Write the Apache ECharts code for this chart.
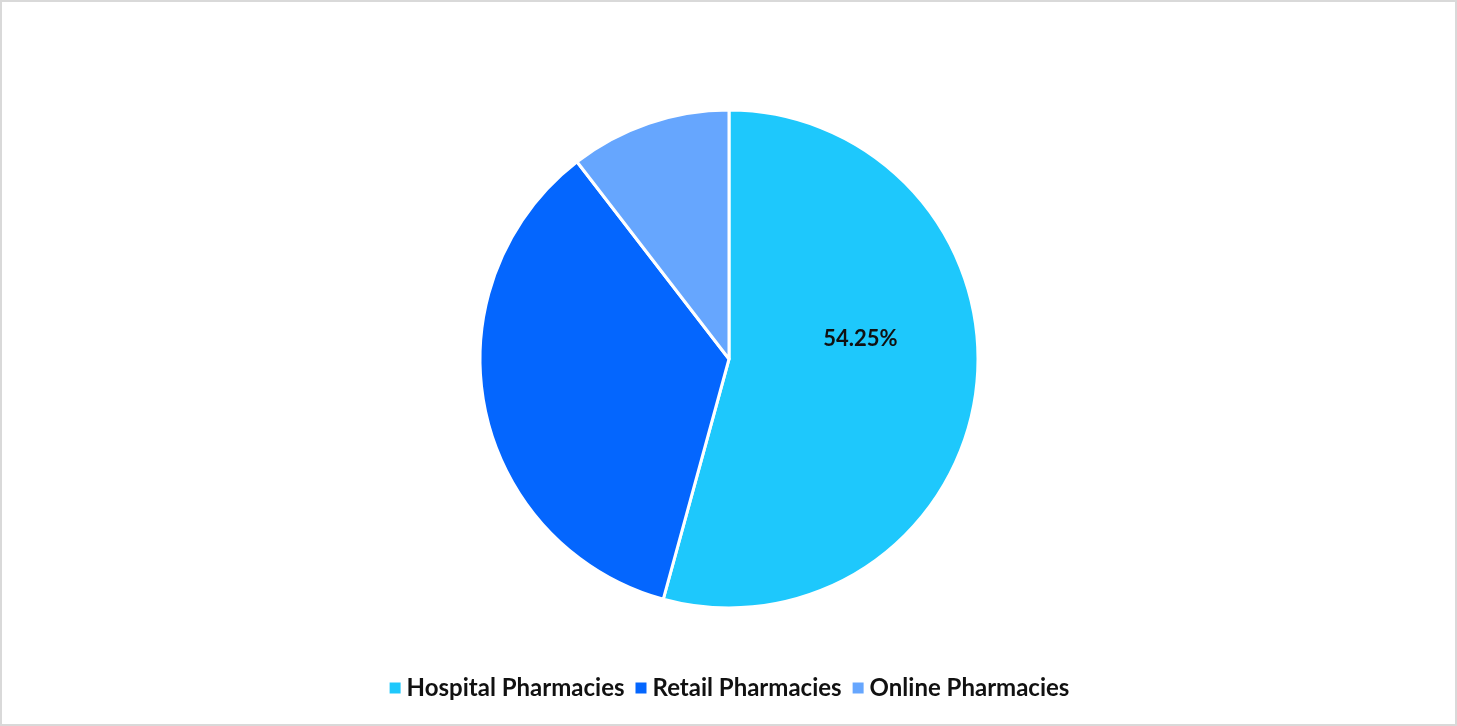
<!DOCTYPE html>
<html><head><meta charset="utf-8">
<script src="https://cdn.jsdelivr.net/npm/echarts@6/dist/echarts.min.js"></script>
<style>html,body{margin:0;padding:0;background:#fff}#c{width:1457px;height:726px;box-sizing:border-box;border:2px solid #d9d9d9}</style>
</head><body><div id="c"></div>
<script>
const categories = ['Hospital Pharmacies', 'Retail Pharmacies', 'Online Pharmacies'];
const values = [54.25, 35.3, 10.45];
const colors = ['#1ec8fc', '#0466fe', '#66a6fe'];
const shownLabels = [true, false, false];

const chart = echarts.init(document.getElementById('c'));
chart.setOption({
  animation: false,
  color: colors,
  legend: {
    bottom: 19, left: 'center',
    itemWidth: 13, itemHeight: 13, itemGap: 9, icon: 'rect',
    textStyle: { fontFamily: 'Lato', fontWeight: 'bold', fontSize: 24, color: '#111' },
    data: categories
  },
  series: [{
    type: 'pie',
    center: [727, 357],
    radius: 249,
    startAngle: 90,
    clockwise: true,
    itemStyle: { borderColor: '#fff', borderWidth: 3 },
    label: {
      show: true, position: 'inside',
      fontFamily: 'Lato', fontWeight: 'bold', fontSize: 22, color: '#111',
      formatter: p => p.value.toFixed(2) + '%',
      offset: [5, -37]
    },
    labelLine: { show: false },
    data: categories.map((n, i) => ({ name: n, value: values[i], label: { show: shownLabels[i] } }))
  }]
});
</script></body></html>
